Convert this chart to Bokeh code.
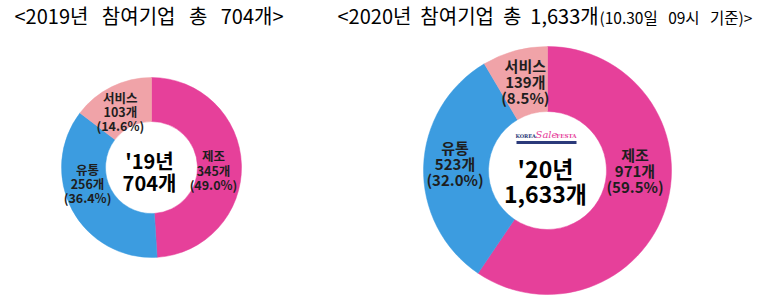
import math
from bokeh.plotting import figure
from bokeh.models import Range1d, ColumnDataSource
from bokeh.core.properties import value
from bokeh.embed import file_html
from bokeh.resources import INLINE

# ---- data ----
categories = ["제조", "유통", "서비스"]
counts_2019 = [345, 256, 103]
pcts_2019 = [49.0, 36.4, 14.6]
counts_2020 = [971, 523, 139]
pcts_2020 = [59.5, 32.0, 8.5]
total_2019 = "704개"
total_2020 = "1,633개"
title_2019 = "<2019년 참여기업 총 704개>"
title_2020_main = "<2020년 참여기업 총 1,633개"
title_2020_note = "(10.30일 09시 기준)>"
colors = ["#E6409A", "#3C9CE0", "#F0A3A8"]

W, H = 763, 303
FONT = value("Noto Sans CJK KR")
SP = "\u00a0"

p = figure(width=W, height=H, output_backend="svg", toolbar_location=None,
           x_range=Range1d(0, W), y_range=Range1d(0, H), min_border=0)
p.axis.visible = False
p.grid.visible = False
p.outline_line_color = None
p.background_fill_color = "white"
p.border_fill_color = "white"


def Y(y):
    return H - y


def wide(s, n):
    return s.replace(" ", SP * n)


def donut(cx, cy, r_in, r_out, counts, pcts, lab_size, lh, offsets):
    total = sum(counts)
    cum = 0
    starts, ends, xs, ys, labels = [], [], [], [], []
    r_mid = (r_in + r_out) / 2
    for i, c in enumerate(counts):
        f0 = cum / total
        cum += c
        f1 = cum / total
        starts.append(math.pi / 2 - 2 * math.pi * f0)
        ends.append(math.pi / 2 - 2 * math.pi * f1)
        a = math.pi * (f0 + f1)
        dx, dy = offsets[i]
        xs.append(cx + r_mid * math.sin(a) + dx)
        ys.append(Y(cy - r_mid * math.cos(a) + dy))
        labels.append(f"{categories[i]}\n{c}개\n({pcts[i]:.1f}%)")
    src = ColumnDataSource(dict(start=starts, end=ends, color=colors,
                                x=[cx] * 3, y=[Y(cy)] * 3))
    p.annular_wedge(x="x", y="y", inner_radius=r_in, outer_radius=r_out,
                    inner_radius_units="screen", outer_radius_units="screen",
                    start_angle="start", end_angle="end", direction="clock",
                    fill_color="color", line_color="color", line_width=0.5, source=src)
    p.text(x=xs, y=ys, text=labels, text_font=FONT, text_font_style="bold",
           text_font_size=f"{lab_size}px", text_align="center", text_baseline="middle",
           text_line_height=lh, text_color="#1e1e1e")


# 2019 donut
donut(151, 167, 46, 90, counts_2019, pcts_2019, 12.5, 0.76,
      [(-6, 5), (-4, -16), (-1, 5)])
p.text(x=[149], y=[Y(171)], text=["'19년\n" + total_2019], text_font=FONT,
       text_font_style="bold", text_font_size="20px", text_align="center",
       text_baseline="middle", text_line_height=0.76, text_color="black")

# 2020 donut
donut(547, 170, 59, 124, counts_2020, pcts_2020, 15, 0.76,
      [(0, -27), (-1, -4), (2, -1)])
p.text(x=[545], y=[Y(180)], text=["'20년\n" + total_2020], text_font=FONT,
       text_font_style="bold", text_font_size="23px", text_align="center",
       text_baseline="middle", text_line_height=0.72, text_color="black")

# logo
p.text(x=[515], y=[Y(135)], text=["KOREA"], text_font=value("DejaVu Serif"),
       text_font_style="bold", text_font_size="5px", text_align="left",
       text_baseline="middle", text_color="#2B3A7A")
p.text(x=[546], y=[Y(134)], text=["Sale"], text_font=value("DejaVu Serif"),
       text_font_style="italic", text_font_size="10px", text_align="center",
       text_baseline="middle", text_color="#E6409A")
p.text(x=[576], y=[Y(135)], text=["FESTA"], text_font=value("DejaVu Serif"),
       text_font_style="bold", text_font_size="5.5px", text_align="right",
       text_baseline="middle", text_color="#E6409A")
p.quad(left=[516], right=[576], top=[Y(140.5)], bottom=[Y(143.5)],
       fill_color="#2B3A7A", line_color=None)

# titles
p.text(x=[14], y=[Y(15)], text=[wide(title_2019, 3)], text_font=FONT,
       text_font_size="20px", text_align="left", text_baseline="middle",
       text_color="black")
p.text(x=[337], y=[Y(15)], text=[wide(title_2020_main, 2)], text_font=FONT,
       text_font_size="20px", text_align="left", text_baseline="middle",
       text_color="black")
p.text(x=[599], y=[Y(16)], text=[wide(title_2020_note, 3)], text_font=FONT,
       text_font_size="15.5px", text_align="left", text_baseline="middle",
       text_color="black")

open("out.html", "w").write(file_html(p, INLINE))
